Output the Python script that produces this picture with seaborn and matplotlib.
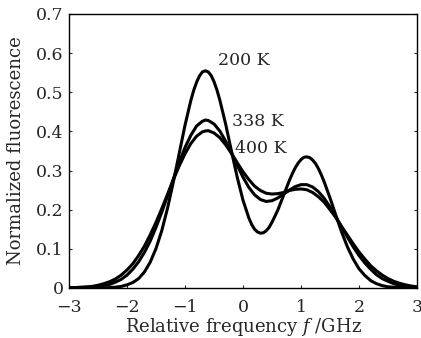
import matplotlib
matplotlib.use("Agg")
import matplotlib.pyplot as plt
import numpy as np
import pandas as pd
import seaborn as sns

# relative frequency (GHz), sampled along the curves
freq = [-3.0, -2.9, -2.8, -2.7, -2.6, -2.5, -2.4, -2.3, -2.2, -2.1,
        -2.0, -1.9, -1.8, -1.7, -1.6, -1.5, -1.4, -1.3, -1.2, -1.1,
        -1.0, -0.9, -0.8, -0.7, -0.65, -0.6, -0.5, -0.4, -0.3, -0.2,
        -0.1, 0.0, 0.1, 0.2, 0.3, 0.4, 0.5, 0.6, 0.7, 0.8,
        0.9, 1.0, 1.1, 1.2, 1.3, 1.4, 1.5, 1.6, 1.7, 1.8,
        1.9, 2.0, 2.1, 2.2, 2.3, 2.4, 2.5, 2.6, 2.7, 2.8,
        2.9, 3.0]

# the 200 K curve is sharper, so it is read at a few more points
freq_200 = [-3.0, -2.9, -2.8, -2.7, -2.6, -2.5, -2.4, -2.3, -2.2, -2.1,
            -2.0, -1.9, -1.8, -1.7, -1.6, -1.5, -1.4, -1.3, -1.2, -1.1,
            -1.0, -0.9, -0.85, -0.8, -0.75, -0.7, -0.65, -0.6, -0.55, -0.5,
            -0.45, -0.4, -0.3, -0.2, -0.1, 0.0, 0.1, 0.15, 0.2, 0.25,
            0.3, 0.35, 0.4, 0.45, 0.5, 0.6, 0.7, 0.8, 0.85, 0.9,
            0.95, 1.0, 1.05, 1.1, 1.15, 1.2, 1.25, 1.3, 1.35, 1.4,
            1.5, 1.6, 1.7, 1.8, 1.9, 2.0, 2.1, 2.2, 2.3, 2.4,
            2.5, 2.6, 2.7, 2.8, 2.9, 3.0]

fluo_200 = [0.000, 0.000, 0.000, 0.000, 0.000, 0.000, 0.000, 0.001, 0.002, 0.004,
            0.008, 0.014, 0.024, 0.041, 0.066, 0.101, 0.147, 0.205, 0.272, 0.344,
            0.416, 0.479, 0.505, 0.526, 0.542, 0.552, 0.555, 0.552, 0.543, 0.527,
            0.506, 0.480, 0.419, 0.350, 0.283, 0.224, 0.179, 0.162, 0.150, 0.143,
            0.140, 0.141, 0.146, 0.155, 0.168, 0.199, 0.237, 0.275, 0.292, 0.307,
            0.319, 0.328, 0.334, 0.335, 0.333, 0.327, 0.318, 0.305, 0.289, 0.271,
            0.230, 0.186, 0.143, 0.105, 0.074, 0.049, 0.032, 0.019, 0.011, 0.006,
            0.003, 0.002, 0.001, 0.000, 0.000, 0.000]

fluo_338 = [0.000, 0.000, 0.001, 0.001, 0.002, 0.004, 0.006, 0.009, 0.015, 0.022,
            0.033, 0.048, 0.067, 0.091, 0.120, 0.155, 0.194, 0.236, 0.279, 0.321,
            0.359, 0.390, 0.414, 0.426, 0.429, 0.428, 0.419, 0.401, 0.375, 0.345,
            0.313, 0.283, 0.257, 0.238, 0.226, 0.221, 0.223, 0.230, 0.240, 0.250,
            0.259, 0.264, 0.264, 0.258, 0.246, 0.229, 0.207, 0.182, 0.156, 0.130,
            0.105, 0.083, 0.064, 0.048, 0.034, 0.024, 0.017, 0.011, 0.007, 0.005,
            0.003, 0.002]

fluo_400 = [0.001, 0.001, 0.002, 0.003, 0.004, 0.007, 0.011, 0.016, 0.023, 0.033,
            0.046, 0.062, 0.083, 0.107, 0.136, 0.168, 0.203, 0.240, 0.277, 0.312,
            0.343, 0.369, 0.388, 0.399, 0.401, 0.402, 0.396, 0.384, 0.366, 0.344,
            0.320, 0.297, 0.277, 0.260, 0.249, 0.242, 0.240, 0.241, 0.244, 0.249,
            0.252, 0.253, 0.251, 0.244, 0.233, 0.219, 0.200, 0.180, 0.157, 0.135,
            0.113, 0.092, 0.074, 0.057, 0.044, 0.033, 0.024, 0.017, 0.012, 0.008,
            0.005, 0.003]

temps = ["200 K", "338 K", "400 K"]
label_x = [-0.44, -0.19, -0.13]
label_y = [0.580, 0.425, 0.357]

xticks = [-3, -2, -1, 0, 1, 2, 3]
yticks = [0, 0.1, 0.2, 0.3, 0.4, 0.5, 0.6, 0.7]
ytick_labels = ["0", "0.1", "0.2", "0.3", "0.4", "0.5", "0.6", "0.7"]

df = pd.concat([
    pd.DataFrame({"f": freq_200, "y": fluo_200, "T": temps[0]}),
    pd.DataFrame({"f": freq, "y": fluo_338, "T": temps[1]}),
    pd.DataFrame({"f": freq, "y": fluo_400, "T": temps[2]}),
])

sns.set_style("white")
plt.rcParams["font.family"] = ["DejaVu Serif"]
plt.rcParams["mathtext.fontset"] = "dejavuserif"

fig, ax = plt.subplots(figsize=(4.21, 3.38), dpi=100)
fig.subplots_adjust(left=0.164, right=0.9905, bottom=0.148, top=0.9586)

sns.lineplot(data=df, x="f", y="y", hue="T", palette=["black"] * 3,
             linewidth=2.2, legend=False, ax=ax)

for t, lx, ly in zip(temps, label_x, label_y):
    ax.text(lx, ly, t, ha="left", va="center", fontsize=12.5)

ax.set_xlim(-3, 3)
ax.set_ylim(0, 0.7)
ax.set_xticks(xticks)
ax.set_yticks(yticks)
ax.set_yticklabels(ytick_labels)
ax.tick_params(direction="in", length=2.5, width=0.8, labelsize=12.5,
               top=False, right=True, left=True, bottom=True)
ax.tick_params(axis="x", pad=8)
ax.tick_params(axis="y", pad=4)
for s in ax.spines.values():
    s.set_linewidth(1.0)
    s.set_color("black")

ax.set_xlabel("Relative frequency $f$ /GHz", fontsize=13, labelpad=0)
ax.set_ylabel("Normalized fluorescence", fontsize=13, labelpad=8)

fig.savefig("out.png", dpi=100)
